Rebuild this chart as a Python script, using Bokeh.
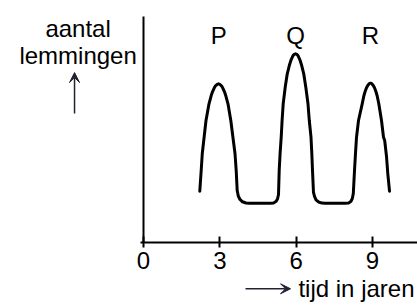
from bokeh.plotting import figure
from bokeh.models import (LinearAxis, FixedTicker, Range1d, Label, Arrow, VeeHead,
                          ColumnDataSource)
from bokeh.core.properties import value
from bokeh.embed import file_html
from bokeh.resources import INLINE

# time (years) and number of lemmings (arbitrary units)
years = [2.213, 2.268, 2.311, 2.457, 2.575, 2.657, 2.712, 2.779, 2.830, 2.897,
         2.948, 2.999, 3.066, 3.117, 3.184, 3.239, 3.321, 3.432, 3.597, 3.644,
         3.683, 3.726, 3.793, 3.892, 4.029, 4.167, 4.972, 5.110, 5.208, 5.267,
         5.307, 5.334, 5.369, 5.413, 5.448, 5.491, 5.574, 5.653, 5.731, 5.806,
         5.873, 5.924, 5.975, 6.026, 6.077, 6.144, 6.219, 6.297, 6.376, 6.466,
         6.517, 6.584, 6.616, 6.643, 6.682, 6.722, 6.781, 6.879, 7.017, 7.134,
         7.921, 8.058, 8.149, 8.208, 8.247, 8.294, 8.333, 8.373, 8.451, 8.597,
         8.660, 8.711, 8.770, 8.821, 8.872, 8.923, 8.974, 9.025, 9.076, 9.135,
         9.186, 9.249, 9.355, 9.434, 9.481, 9.552, 9.603, 9.670]
lemmings = [2.270, 3.186, 3.938, 5.398, 6.137, 6.482, 6.668, 6.836, 6.934, 7.000,
            7.022, 7.000, 6.934, 6.836, 6.668, 6.482, 6.137, 5.398, 3.938, 3.186,
            2.301, 2.058, 1.903, 1.801, 1.748, 1.735, 1.735, 1.748, 1.814, 1.925,
            2.124, 3.186, 3.938, 4.659, 5.398, 6.137, 6.903, 7.478, 7.832, 8.097,
            8.261, 8.327, 8.350, 8.327, 8.261, 8.097, 7.832, 7.478, 6.903, 6.137,
            5.398, 4.659, 3.938, 3.186, 2.212, 2.035, 1.889, 1.792, 1.743, 1.735,
            1.735, 1.748, 1.814, 1.947, 2.168, 3.186, 3.938, 4.659, 5.398, 6.137,
            6.482, 6.681, 6.858, 6.960, 7.027, 7.049, 7.027, 6.960, 6.858, 6.681,
            6.482, 6.137, 5.398, 4.659, 4.513, 3.805, 3.040, 2.270]

peak_names = ["P", "Q", "R"]
peak_years = [2.96, 5.98, 8.92]
peak_label_y = [9.16, 9.16, 9.16]

x_ticks = [0, 3, 6, 9]
x_title = "tijd in jaren"
y_title_lines = ["aantal", "lemmingen"]

FONT = "Liberation Sans"
FS = "24px"
ARROW_COLOR = "#222233"

p = figure(width=417, height=305, output_backend="svg", toolbar_location=None,
           x_range=Range1d(-5.62, 10.77), y_range=Range1d(-2.79, 10.71),
           x_axis_type=None, y_axis_type=None,
           min_border=0)
p.outline_line_color = None
p.grid.visible = False
p.background_fill_color = "white"
p.border_fill_color = "white"

xa = LinearAxis(ticker=FixedTicker(ticks=x_ticks), fixed_location=0,
                bounds=(-0.12, 10.77))
xa.axis_line_width = 2
xa.axis_line_color = "black"
xa.major_tick_line_width = 2
xa.major_tick_line_color = "black"
xa.major_tick_in = 6
xa.major_tick_out = 5
xa.minor_tick_line_color = None
xa.major_label_text_font = FONT
xa.major_label_text_font_size = FS
xa.major_label_text_color = "black"
xa.major_label_standoff = 5
p.add_layout(xa, "below")

ya = LinearAxis(ticker=FixedTicker(ticks=[]), fixed_location=0, bounds=(0, 10))
ya.axis_line_width = 2
ya.axis_line_color = "black"
ya.major_tick_line_color = None
ya.minor_tick_line_color = None
ya.major_label_text_font_size = "0px"
p.add_layout(ya, "left")

p.line(years, lemmings, line_width=3, line_color="black", line_join="round",
       line_cap="round")

src = ColumnDataSource(dict(x=peak_years, y=peak_label_y, t=peak_names))
p.text(x="x", y="y", text="t", source=src, text_font=value(FONT),
       text_font_size=FS, text_align="center", text_baseline="middle",
       text_color="black")

p.add_layout(Label(x=-2.57, y=9.45, text=y_title_lines[0], text_font=FONT,
                   text_font_size=FS, text_align="center",
                   text_baseline="middle", text_color="black"))
p.add_layout(Label(x=-2.57, y=8.28, text=y_title_lines[1], text_font=FONT,
                   text_font_size=FS, text_align="center",
                   text_baseline="middle", text_color="black"))
p.add_layout(Arrow(x_start=-2.71, y_start=5.71, x_end=-2.71, y_end=7.52,
                   line_color=ARROW_COLOR, line_width=1.5,
                   end=VeeHead(size=10, fill_color=ARROW_COLOR,
                               line_color=ARROW_COLOR)))

p.add_layout(Label(x=6.09, y=-2.02, text=x_title, text_font=FONT,
                   text_font_size=FS, text_align="left",
                   text_baseline="middle", text_color="black"))
p.add_layout(Arrow(x_start=4.01, y_start=-2.05, x_end=5.78, y_end=-2.05,
                   line_color=ARROW_COLOR, line_width=1.5,
                   end=VeeHead(size=10, fill_color=ARROW_COLOR,
                               line_color=ARROW_COLOR)))

open("out.html", "w").write(file_html(p, INLINE))
